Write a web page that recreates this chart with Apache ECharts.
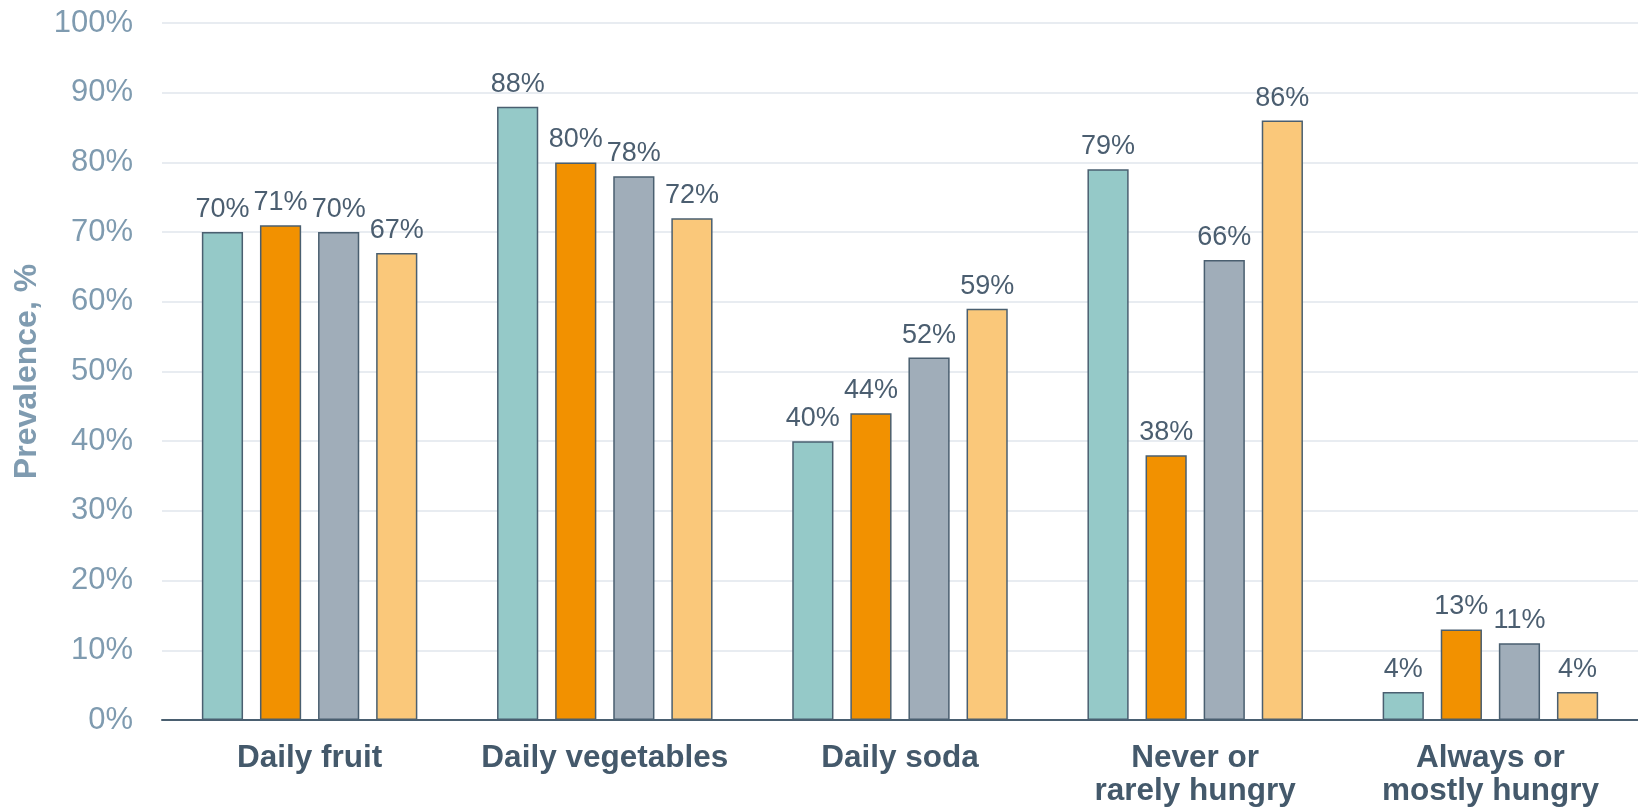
<!DOCTYPE html>
<html>
<head>
<meta charset="utf-8">
<script src="https://cdn.jsdelivr.net/npm/echarts@6/dist/echarts.min.js"></script>
<style>
html,body{margin:0;padding:0;background:#fff;}
#chart{width:1638px;height:812px;}
</style>
</head>
<body>
<div id="chart"></div>
<script>
var categories = ['Daily fruit', 'Daily vegetables', 'Daily soda', 'Never or\nrarely hungry', 'Always or\nmostly hungry'];
var seriesNames = ['Group 1', 'Group 2', 'Group 3', 'Group 4'];
var group1 = [70, 88, 40, 79, 4];
var group2 = [71, 80, 44, 38, 13];
var group3 = [70, 78, 52, 66, 11];
var group4 = [67, 72, 59, 86, 4];
var colors = ['#95c9c8', '#f29100', '#a0adb9', '#fac87a'];
var yTicks = { min: 0, max: 100, interval: 10 };

var FONT = '"Liberation Sans", Arial, sans-serif';
var dataSets = [group1, group2, group3, group4];
var series = dataSets.map(function (d, i) {
  return {
    name: seriesNames[i],
    type: 'bar',
    data: d,
    barGap: '41%',
    barCategoryGap: '27%',
    itemStyle: { color: colors[i], borderColor: '#4a5f70', borderWidth: 1.5 },
    label: {
      show: true,
      position: 'top',
      distance: 9,
      formatter: '{c}%',
      fontFamily: FONT,
      fontSize: 27,
      color: '#4b5e70'
    }
  };
});

var chart = echarts.init(document.getElementById('chart'));
chart.setOption({
  animation: false,
  backgroundColor: '#ffffff',
  color: colors,
  grid: { left: 162, right: 0, top: 23, bottom: 92, containLabel: false },
  xAxis: {
    type: 'category',
    data: categories,
    axisLine: { show: true, lineStyle: { color: '#4a5f70', width: 2 } },
    axisTick: { show: false },
    axisLabel: {
      margin: 22,
      fontFamily: FONT,
      fontSize: 31.5,
      fontWeight: 'bold',
      color: '#44596b',
      lineHeight: 33,
      interval: 0
    }
  },
  yAxis: {
    type: 'value',
    min: yTicks.min,
    max: yTicks.max,
    interval: yTicks.interval,
    name: 'Prevalence, %',
    nameLocation: 'middle',
    nameGap: 118,
    nameTextStyle: { fontFamily: FONT, fontSize: 32, fontWeight: 'bold', color: '#7f9bb0' },
    axisLine: { show: false },
    axisTick: { show: false },
    splitLine: { lineStyle: { color: '#e1e6ec', width: 1.5 } },
    axisLabel: {
      formatter: '{value}%',
      margin: 29,
      fontFamily: FONT,
      fontSize: 31,
      color: '#7f9bb0'
    }
  },
  series: series
});
</script>
</body>
</html>
